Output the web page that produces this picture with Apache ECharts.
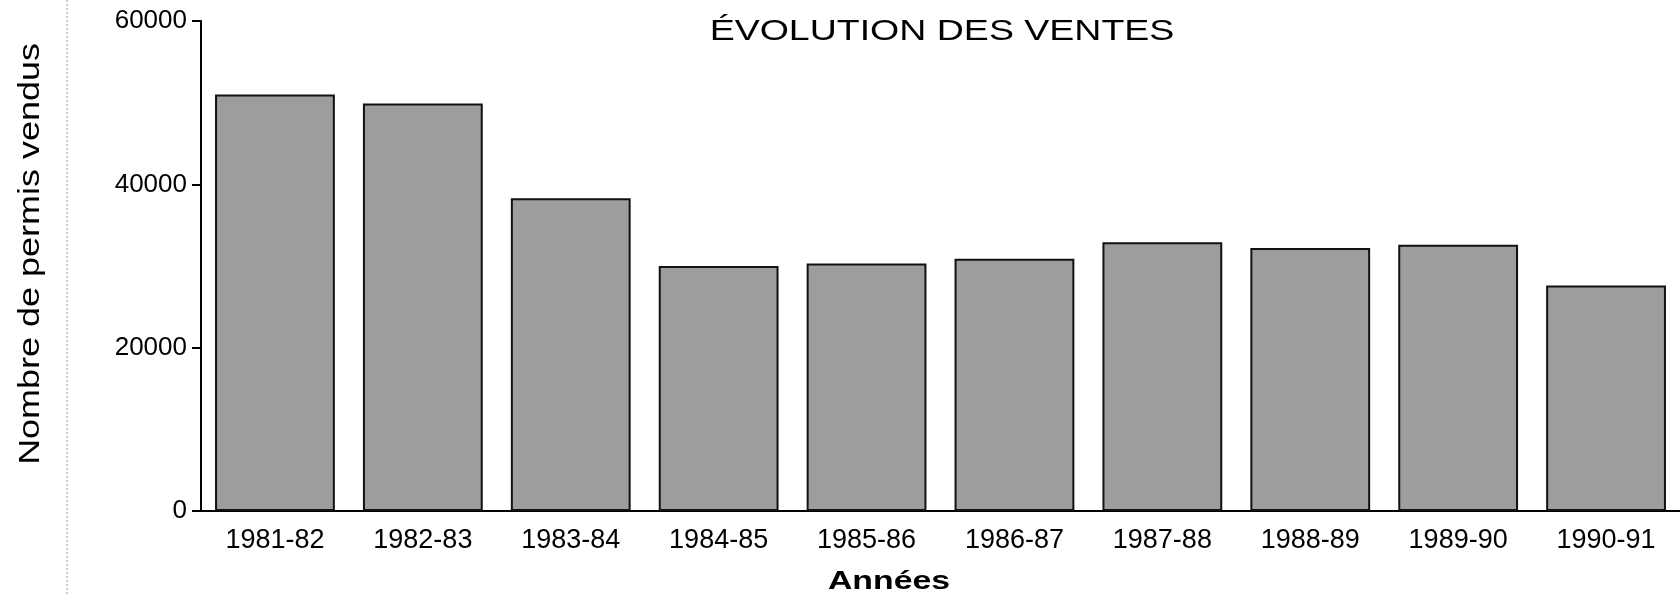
<!DOCTYPE html>
<html>
<head>
<meta charset="utf-8">
<script src="https://cdn.jsdelivr.net/npm/echarts@6/dist/echarts.min.js"></script>
<style>
html,body{margin:0;padding:0;background:#fff;}
#chart{width:1680px;height:595px;}
</style>
</head>
<body>
<div id="chart"></div>
<script>
const categories = ['1981-82','1982-83','1983-84','1984-85','1985-86','1986-87','1987-88','1988-89','1989-90','1990-91'];
const ventes = [51000, 49900, 38300, 30000, 30300, 30900, 32900, 32200, 32600, 27600];
const yTicks = [0, 20000, 40000, 60000];
const titleText = 'ÉVOLUTION DES VENTES';
const yName = 'Nombre de permis vendus';
const xName = 'Années';

const FONT = 'Liberation Sans, Arial, Helvetica, sans-serif';
const chart = echarts.init(document.getElementById('chart'), null, {renderer: 'canvas'});
chart.setOption({
  backgroundColor: '#ffffff',
  animation: false,
  grid: {left: 201, right: 0, top: 21, bottom: 84, containLabel: false},
  xAxis: {
    type: 'category',
    data: categories,
    axisLine: {show: true, lineStyle: {color: '#000', width: 2}},
    axisTick: {show: false},
    axisLabel: {color: '#000', fontFamily: FONT, fontSize: 27, margin: 16}
  },
  yAxis: {
    type: 'value',
    min: yTicks[0],
    max: yTicks[yTicks.length - 1],
    interval: yTicks[1] - yTicks[0],
    splitLine: {show: false},
    axisLine: {show: true, lineStyle: {color: '#000', width: 2}},
    axisTick: {show: true, length: 9, lineStyle: {color: '#000', width: 2}},
    axisLabel: {color: '#000', fontFamily: FONT, fontSize: 26, margin: 14,
      formatter: function (v) { return String(v); }}
  },
  series: [{
    type: 'bar',
    data: ventes,
    barCategoryGap: '19%',
    itemStyle: {color: '#9d9d9d', borderColor: '#111', borderWidth: 2}
  }],
  graphic: [
    {
      type: 'text', x: 942, y: 32, scaleX: 1.25,
      style: {text: titleText, fill: '#000', font: '30px ' + FONT, textAlign: 'center', textVerticalAlign: 'middle'}
    },
    {
      type: 'text', x: 31, y: 254, rotation: Math.PI / 2, scaleX: 1.24,
      style: {text: yName, fill: '#000', font: '29px ' + FONT, textAlign: 'center', textVerticalAlign: 'middle'}
    },
    {
      type: 'text', x: 889, y: 582, scaleX: 1.3,
      style: {text: xName, fill: '#000', font: 'bold 26px ' + FONT, textAlign: 'center', textVerticalAlign: 'middle'}
    },
    {
      type: 'line', shape: {x1: 67, y1: 0, x2: 67, y2: 595},
      style: {stroke: '#999', lineWidth: 1, lineDash: [2, 2]}
    }
  ]
});
</script>
</body>
</html>
